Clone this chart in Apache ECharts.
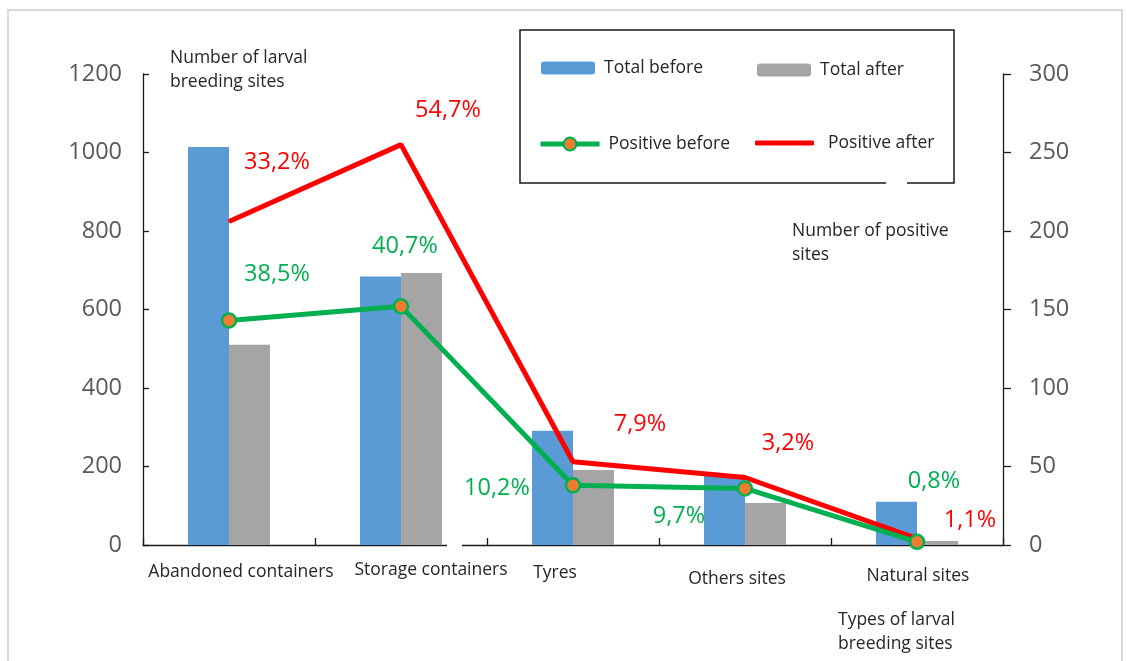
<!DOCTYPE html>
<html>
<head>
<meta charset="utf-8">
<script src="https://cdn.jsdelivr.net/npm/echarts@6/dist/echarts.min.js"></script>
<style>html,body{margin:0;padding:0;background:#fff}#c{width:1127px;height:661px}</style>
</head>
<body>
<div id="c"></div>
<script>
const categories = ['Abandoned containers', 'Storage containers', 'Tyres', 'Others sites', 'Natural sites'];
const totalBefore = [1014, 684, 291, 179, 110];
const totalAfter = [510, 693, 191, 107, 10];
const positiveBefore = [143, 152, 38, 36, 2];
const positiveAfter = [206, 255, 53, 43, 4];
const positiveBeforePct = ['38,5%', '40,7%', '10,2%', '9,7%', '0,8%'];
const positiveAfterPct = ['33,2%', '54,7%', '7,9%', '3,2%', '1,1%'];
const leftTicks = [0, 200, 400, 600, 800, 1000, 1200];
const rightTicks = [0, 50, 100, 150, 200, 250, 300];

const FONT = '"Open Sans", "Liberation Sans", sans-serif';
const TXT = '#262626';
const AX = '#595959';

// label placement (layout only)
const greenOff = [[48, -46], [4, -60], [-76, 3], [-66, 28], [17, -61]];
const redOff = [[48, -59], [47, -34], [67, -37], [43, -34], [53, -18]];
const xLabShift = [[12, 2], [30, 0], [-18, 3], [-8, 9], [1, 6]];

const rich = {};
xLabShift.forEach(([dx, dy], i) => {
  rich['c' + i] = {
    fontFamily: FONT, fontSize: 17.5, color: TXT,
    padding: [dy, dx < 0 ? -2 * dx : 0, 0, dx > 0 ? 2 * dx : 0]
  };
});

const chart = echarts.init(document.getElementById('c'), null, {renderer: 'canvas'});
const axisLine = {show: true, lineStyle: {color: '#1a1a1a', width: 1.3}};
const legText = {fontFamily: FONT, fontSize: 17.5, color: TXT, padding: [0, 0, 0, 4]};

chart.setOption({
  animation: false,
  backgroundColor: '#fff',
  grid: {left: 143, right: 124, top: 74, bottom: 116, containLabel: false},
  legend: [
    {data: ['Total before'], left: 541, top: 59, itemWidth: 54, itemHeight: 13},
    {data: ['Total after'], left: 757, top: 61, itemWidth: 54, itemHeight: 13},
    {data: ['Positive before'], left: 538, top: 135, itemWidth: 59, itemHeight: 16,
      lineStyle: {width: 5}},
    {data: [{name: 'Positive after', icon: 'roundRect'}], left: 755, top: 134, itemWidth: 59, itemHeight: 5,
      textStyle: Object.assign({}, legText, {padding: [0, 0, 0, 9]})}
  ].map(l => Object.assign({
    padding: 0, selectedMode: false, textStyle: legText
  }, l)),
  xAxis: {
    type: 'category', data: categories,
    axisLine: axisLine,
    axisTick: {show: true, inside: true, length: 7, lineStyle: {color: '#1a1a1a', width: 1.3}},
    axisLabel: {
      margin: 16, interval: 0,
      formatter: (v, i) => '{c' + i + '|' + v + '}',
      rich: rich
    },
    splitLine: {show: false}
  },
  yAxis: [
    {
      type: 'value', min: 0, max: 1200, interval: 200,
      axisLine: axisLine,
      axisTick: {show: true, inside: true, length: 6, lineStyle: {color: '#1a1a1a', width: 1.3}},
      axisLabel: {margin: 21, fontFamily: FONT, fontSize: 23.5, color: AX,
        formatter: v => leftTicks.includes(v) ? String(v) : ''},
      splitLine: {show: false}
    },
    {
      type: 'value', min: 0, max: 300, interval: 50, position: 'right',
      axisLine: axisLine,
      axisTick: {show: true, inside: false, length: 8, lineStyle: {color: '#1a1a1a', width: 1.3}},
      axisLabel: {margin: 26, fontFamily: FONT, fontSize: 23.5, color: AX,
        formatter: v => rightTicks.includes(v) ? String(v) : ''},
      splitLine: {show: false}
    }
  ],
  series: [
    {name: 'Total before', type: 'bar', data: totalBefore, barWidth: 41, barGap: '0%',
      itemStyle: {color: '#5b9bd5'}},
    {name: 'Total after', type: 'bar', data: totalAfter, barWidth: 41, barGap: '0%',
      itemStyle: {color: '#a5a5a5'}},
    {name: 'Positive before', type: 'line', yAxisIndex: 1, z: 4,
      data: positiveBefore.map((v, i) => ({value: v, label: {offset: greenOff[i]}})),
      symbol: 'circle', symbolSize: 14, showAllSymbol: true,
      lineStyle: {color: '#00b050', width: 5},
      itemStyle: {color: '#ed7d31', borderColor: '#00b050', borderWidth: 2.5},
      label: {show: true, position: 'inside', fontFamily: FONT, fontSize: 23.5, color: '#00b050',
        formatter: p => positiveBeforePct[p.dataIndex]}},
    {name: 'Positive after', type: 'line', yAxisIndex: 1, z: 3,
      data: positiveAfter.map((v, i) => ({value: v, label: {offset: redOff[i]}})),
      symbol: 'circle', symbolSize: 2, showAllSymbol: true,
      lineStyle: {color: '#ff0000', width: 5},
      itemStyle: {color: '#ff0000'},
      label: {show: true, position: 'inside', fontFamily: FONT, fontSize: 23.5, color: '#ff0000',
        formatter: p => positiveAfterPct[p.dataIndex]}}
  ],
  graphic: [
    {type: 'rect', shape: {x: 8, y: 10, width: 1114, height: 670}, silent: true,
      style: {fill: 'none', stroke: '#d9d9d9', lineWidth: 2}, z: 0},
    {type: 'rect', shape: {x: 520, y: 30, width: 434, height: 153}, silent: true,
      style: {fill: 'none', stroke: '#1a1a1a', lineWidth: 1.5}, z: 1},
    {type: 'rect', shape: {x: 886, y: 180, width: 21, height: 6}, silent: true,
      style: {fill: '#fff'}, z: 2},
    {type: 'rect', shape: {x: 447, y: 542, width: 15, height: 6}, silent: true,
      style: {fill: '#fff'}, z: 20},
    {type: 'text', left: 170, top: 46, silent: true,
      style: {text: 'Number of larval\nbreeding sites', font: '17.5px ' + FONT, fill: TXT, lineHeight: 24}},
    {type: 'text', left: 792, top: 219, silent: true,
      style: {text: 'Number of positive\nsites', font: '17.5px ' + FONT, fill: TXT, lineHeight: 24}},
    {type: 'text', left: 838, top: 608, silent: true,
      style: {text: 'Types of larval\nbreeding sites', font: '17.5px ' + FONT, fill: TXT, lineHeight: 24}}
  ]
});
</script>
</body>
</html>
